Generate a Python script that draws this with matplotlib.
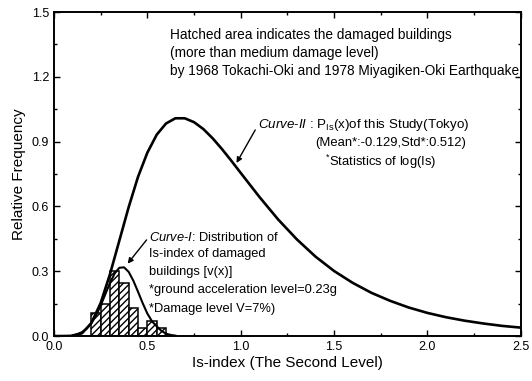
import matplotlib
matplotlib.use("Agg")
import matplotlib.pyplot as plt
from matplotlib.ticker import MultipleLocator, FormatStrFormatter

plt.rcParams["font.family"] = ["Liberation Sans", "DejaVu Sans"]
plt.rcParams["mathtext.fontset"] = "custom"
plt.rcParams["mathtext.rm"] = "Liberation Sans"
plt.rcParams["mathtext.it"] = "Liberation Sans:italic"
plt.rcParams["hatch.linewidth"] = 1.0

# histogram of damaged buildings (bin left edges, width 0.05)
bin_left = [0.20, 0.25, 0.30, 0.35, 0.40, 0.45, 0.50, 0.55]
bin_height = [0.105, 0.147, 0.300, 0.245, 0.130, 0.035, 0.070, 0.035]
bin_width = 0.05

# Curve-II : P_Is(x) of this study (Tokyo)
curve2_x = [0.0, 0.05, 0.10, 0.15, 0.20, 0.25, 0.30, 0.35, 0.40, 0.45, 0.50,
            0.55, 0.60, 0.65, 0.70, 0.75, 0.80, 0.85, 0.90, 0.95, 1.00,
            1.10, 1.20, 1.30, 1.40, 1.50, 1.60, 1.70, 1.80, 1.90, 2.00,
            2.10, 2.20, 2.30, 2.40, 2.50]
curve2_y = [0.0, 0.0, 0.001, 0.013, 0.060, 0.153, 0.287, 0.442, 0.597, 0.737,
            0.849, 0.932, 0.984, 1.008, 1.008, 0.990, 0.958, 0.915, 0.865,
            0.811, 0.755, 0.644, 0.540, 0.448, 0.368, 0.301, 0.246, 0.200,
            0.163, 0.132, 0.107, 0.087, 0.071, 0.058, 0.047, 0.039]

# Curve-I : distribution of Is-index of damaged buildings v(x)
curve1_x = [0.10, 0.125, 0.15, 0.175, 0.20, 0.225, 0.25, 0.275, 0.30, 0.325,
            0.35, 0.375, 0.40, 0.425, 0.45, 0.475, 0.50, 0.525, 0.55, 0.575,
            0.60, 0.625, 0.65]
curve1_y = [0.004, 0.009, 0.018, 0.034, 0.060, 0.095, 0.141, 0.194, 0.246,
            0.290, 0.316, 0.318, 0.297, 0.256, 0.205, 0.152, 0.104, 0.068,
            0.045, 0.024, 0.011, 0.005, 0.002]

fig = plt.figure(figsize=(5.32, 3.81), dpi=100)
ax = fig.add_axes([0.1015, 0.118, 0.8775, 0.8505])

ax.bar(bin_left, bin_height, width=bin_width, align="edge", color="white",
       edgecolor="black", linewidth=1.1, hatch="/////", zorder=2)
ax.plot(curve2_x, curve2_y, color="black", linewidth=1.9, zorder=3)
ax.plot(curve1_x, curve1_y, color="black", linewidth=1.5, zorder=3)

ax.set_xlim(0, 2.5)
ax.set_ylim(0, 1.5)
ax.xaxis.set_major_locator(MultipleLocator(0.5))
ax.xaxis.set_minor_locator(MultipleLocator(0.25))
ax.yaxis.set_major_locator(MultipleLocator(0.3))
ax.yaxis.set_minor_locator(MultipleLocator(0.15))
ax.xaxis.set_major_formatter(FormatStrFormatter("%.1f"))
ax.yaxis.set_major_formatter(FormatStrFormatter("%.1f"))
ax.tick_params(which="both", direction="in", top=True, right=True,
               labelsize=9, width=1)
ax.tick_params(which="major", length=4)
ax.tick_params(which="minor", length=2.5)
for s in ax.spines.values():
    s.set_linewidth(1.4)

ax.set_xlabel("Is-index (The Second Level)", fontsize=11, labelpad=2)
ax.set_ylabel("Relative Frequency", fontsize=11, labelpad=4)

# header note
note_lines = ["Hatched area indicates the damaged buildings",
              "(more than medium damage level)",
              "by 1968 Tokachi-Oki and 1978 Miyagiken-Oki Earthquake"]
for line, y in zip(note_lines, [1.394, 1.310, 1.227]):
    ax.text(0.62, y, line, fontsize=9.8, va="center")

# Curve-II label
ax.text(1.09, 0.977,
        r"$\mathit{Curve}$-$\mathit{II}$ : P$_{\rm Is}$(x)of this Study(Tokyo)",
        fontsize=9.6, va="center")
ax.text(1.40, 0.894, "(Mean*:-0.129,Std*:0.512)", fontsize=9.4, va="center")
ax.text(1.45, 0.806, r"$^{*}$Statistics of log(Is)", fontsize=9.4, va="center")

# Curve-I label
c1_lines = [r"$\mathit{Curve}$-$\mathit{I}$: Distribution of",
            "Is-index of damaged",
            "buildings [v(x)]",
            "*ground acceleration level=0.23g",
            "*Damage level V=7%)"]
for line, y in zip(c1_lines, [0.458, 0.380, 0.296, 0.213, 0.125]):
    ax.text(0.508, y, line, fontsize=9.3, va="center")

ax.annotate("", xy=(0.97, 0.79), xytext=(1.085, 0.965),
            arrowprops=dict(arrowstyle="-|>", color="black", lw=1,
                            mutation_scale=8))
ax.annotate("", xy=(0.385, 0.325), xytext=(0.505, 0.455),
            arrowprops=dict(arrowstyle="-|>", color="black", lw=1,
                            mutation_scale=8))

fig.savefig("out.png", dpi=100)
